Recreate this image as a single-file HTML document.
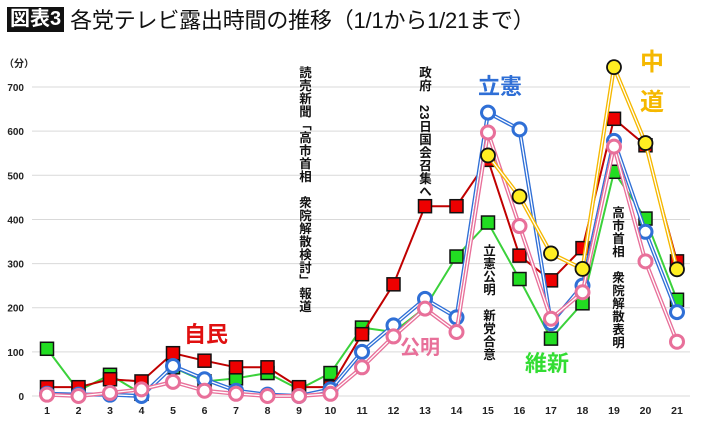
<!DOCTYPE html>
<html><head><meta charset="utf-8">
<style>
body{margin:0;background:#fff;width:710px;height:421px;overflow:hidden;font-family:"Liberation Sans","Noto Sans CJK JP",sans-serif;}
#title{position:absolute;left:7px;top:5px;height:28px;display:flex;align-items:center;white-space:nowrap;}
#badge{background:#111;color:#fff;font-weight:bold;font-size:20px;padding:0 3px;height:25px;line-height:25px;margin-right:6px;}
#ttext{font-size:22px;color:#111;letter-spacing:-0.2px}
svg{position:absolute;left:0;top:0}
</style></head><body>
<div id="title"><span id="badge">図表3</span><span id="ttext">各党テレビ露出時間の推移（1/1から1/21まで）</span></div>
<svg id="chart" width="710" height="421"></svg>
<script>
const days=[1,2,3,4,5,6,7,8,9,10,11,12,13,14,15,16,17,18,19,20,21];
const yTicks=[0,100,200,300,400,500,600,700];
const ldp=[20,20,38,33,97,80,65,65,20,20,140,253,430,430,535,318,262,335,628,568,305];
const ishin=[107,12,48,5,65,33,40,52,15,52,155,145,200,316,393,265,130,210,508,402,218];
const cdp=[5,3,3,0,68,38,12,3,0,15,100,160,220,178,642,604,165,250,578,372,190];
const komei=[3,0,7,15,32,12,5,0,0,5,65,135,198,145,597,385,175,235,565,305,123];
const chudo=[null,null,null,null,null,null,null,null,null,null,null,null,null,null,545,452,323,288,745,573,287];

const svg=document.getElementById('chart');
const NS='http://www.w3.org/2000/svg';
const X=d=>47+(d-1)*31.5;
const Y=v=>396-v*0.4414;
function el(t,a,p){const e=document.createElementNS(NS,t);for(const k in a)e.setAttribute(k,a[k]);(p||svg).appendChild(e);return e;}
yTicks.forEach(v=>{
  const g=el('line',{x1:32,x2:690,y1:Y(v),y2:Y(v),stroke:'#d9d9d9','stroke-width':1});
  
  
  const t=el('text',{x:24,y:Y(v)+4,'text-anchor':'end','font-size':10,'font-weight':'bold',fill:'#222'});
  t.textContent=v;
  
  
});
const yu=el('text',{x:4,y:67,'font-size':10,'font-weight':'bold',fill:'#222'});yu.textContent='（分）';


days.forEach(d=>{
  const t=el('text',{x:X(d),y:414,'text-anchor':'middle','font-size':10.5,'font-weight':'bold',fill:'#222'});
  t.textContent=d;
  
  
});
function series(name,data,line,fill,stroke,shape,dbl){
  const g=el('g',{});
  
  
  let pts=[];data.forEach((v,i)=>{if(v!==null)pts.push(X(days[i])+','+Y(v));});
  if(dbl){el('polyline',{points:pts.join(' '),fill:'none',stroke:line,'stroke-width':4},g);el('polyline',{points:pts.join(' '),fill:'none',stroke:'#fff','stroke-width':1.3},g);}
  else el('polyline',{points:pts.join(' '),fill:'none',stroke:line,'stroke-width':2},g);
  data.forEach((v,i)=>{if(v===null)return;const x=X(days[i]),y=Y(v);let m;
    if(shape==='sq')m=el('rect',{x:x-6.5,y:y-6.5,width:13,height:13,fill:fill,stroke:stroke,'stroke-width':1.5},g);
    else m=el('circle',{cx:x,cy:y,r:shape==='big'?7:6.5,fill:fill,stroke:stroke,'stroke-width':shape==='big'?1.8:3},g);
    
    
  });
}
series('ishin',ishin,'#3bd13b','#22dd22','#111','sq',false);
series('ldp',ldp,'#c00000','#ee0000','#111','sq',false);
series('cdp',cdp,'#2f6fd6','#fff','#2f6fd6','c',true);
series('komei',komei,'#e8709a','#fff','#e8709a','c',true);
series('chudo',chudo,'#f5b800','#ffee22','#111','big',true);
function label(txt,x,y,size,color,name,vert){
  const t=el('text',{x:x,y:y,'font-size':size,'font-weight':'bold',fill:color});
  if(vert){t.setAttribute('writing-mode','tb');t.setAttribute('glyph-orientation-vertical','0');t.setAttribute('letter-spacing','0.5');}
  t.textContent=txt;
  
  
}
label('自民',184,342,22,'#e01010','label-jimin');
label('公明',400,354,20,'#e8709a','label-komei');
label('維新',525,371,22,'#33dd33','label-ishin');
label('立憲',478,94,22,'#2f6fd6','label-rikken');
label('中',640,70,24,'#f5b800','label-chudo-1');
label('道',640,110,24,'#f5b800','label-chudo-2');
label('読売新聞「高市首相　衆院解散検討」報道',304,66,12.5,'#111','annotation-yomiuri',true);
label('政府　23日国会召集へ',424,66,12.5,'#111','annotation-diet',true);
label('立憲公明　新党合意',488,244,12.5,'#111','annotation-merger',true);
label('高市首相　衆院解散表明',617,206,12.5,'#111','annotation-dissolution',true);
</script>
</body></html>
